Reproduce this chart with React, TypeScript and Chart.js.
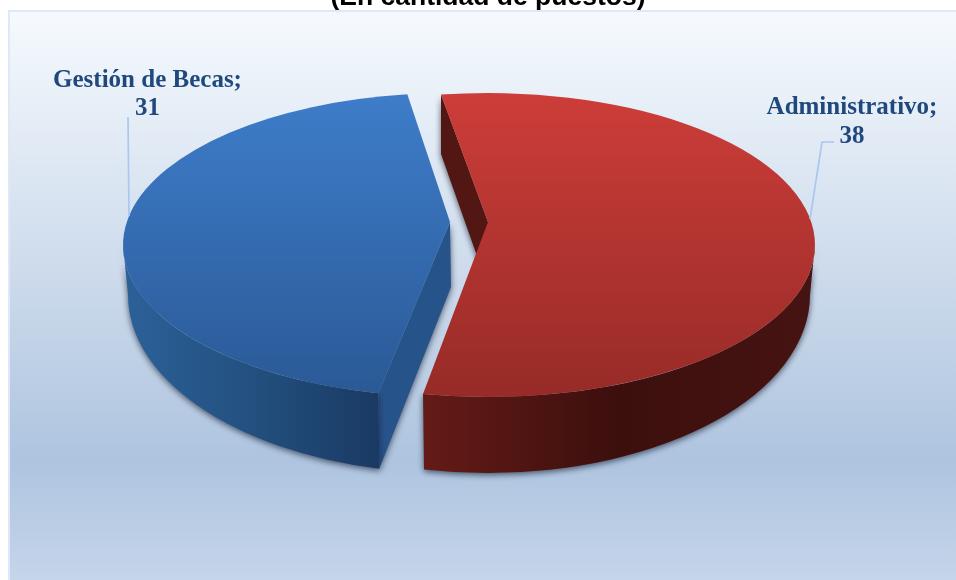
import React, { useEffect, useRef } from "react";
import { Chart, registerables } from "chart.js";

Chart.register(...registerables);

const categories = ["Administrativo", "Gestión de Becas"];
const seriesValues = [38, 31];
const titleText = "(En cantidad de puestos)";

const W = 956;
const H = 580;
const RAD = Math.PI / 180;

const topColors = [
  ["#cd3d39", "#972b27"],
  ["#3e7dca", "#2a5995"],
];
const wallStops = [
  [[0, "#641b17"], [0.5, "#3c0f0d"], [1, "#461412"]],
  [[0, "#2c6199"], [0.5, "#23507f"], [1, "#1a3a63"]],
];
const innerColors = ["#521713", "#26538a"];

// small perspective corrections of the slice edges, in degrees [start, end]
const perspective = [
  [-0.76, 0.7],
  [1.9, 0],
];

const geom = {
  rx: 327, ry: 152, cy: 245, apexY: 222,
  lowRx: 322, lowCy: 295, lowRyFront: 178, lowRyBack: 142, lowApexY: 287,
  explode: 19,
};

const lowPoint = (cx: number, a: number): [number, number] => {
  const s = Math.sin(a);
  return [cx + geom.lowRx * Math.cos(a), geom.lowCy + (s > 0 ? geom.lowRyFront : geom.lowRyBack) * s];
};
const topPoint = (cx: number, a: number): [number, number] => [
  cx + geom.rx * Math.cos(a),
  geom.cy + geom.ry * Math.sin(a),
];

const pie3d = {
  id: "pie3d",
  beforeDraw(chart: any) {
    const c = chart.ctx;
    c.save();
    c.fillStyle = "#ffffff";
    c.fillRect(0, 0, W, H);
    const g = c.createLinearGradient(0, 10, 0, 580);
    g.addColorStop(0, "#f6fafe");
    g.addColorStop(0.5, "#c9d8ea");
    g.addColorStop(0.79, "#aec4df");
    g.addColorStop(1, "#c5d5ea");
    c.fillStyle = g;
    c.fillRect(8, 10, W - 8, H - 10);
    c.strokeStyle = "#dfe8f8";
    c.lineWidth = 2;
    c.beginPath();
    c.moveTo(9, H);
    c.lineTo(9, 11);
    c.lineTo(W, 11);
    c.stroke();
    c.restore();
  },
  beforeDatasetsDraw(chart: any) {
    const c = chart.ctx;
    const arcs = chart.getDatasetMeta(0).data;
    [1, 0].forEach((i) => {
      const el = arcs[i];
      const mid = (el.startAngle + el.endAngle) / 2;
      const cx = el.x + Math.cos(mid) * geom.explode;
      const a0 = el.startAngle + perspective[i][0] * RAD;
      const a1 = el.endAngle + perspective[i][1] * RAD;
      const isRed = i === 0;
      c.save();
      c.shadowColor = "rgba(20,30,50,0.7)";
      c.shadowBlur = 6;
      c.shadowOffsetX = 0;
      c.shadowOffsetY = 2;

      // inner cut wall
      const corner = topPoint(cx, a0);
      const lowCorner = isRed ? [corner[0], 154] : [corner[0] + 1, lowPoint(cx, a0)[1]];
      c.fillStyle = innerColors[i];
      c.beginPath();
      c.moveTo(corner[0], corner[1]);
      c.lineTo(cx, geom.apexY);
      c.lineTo(cx + (isRed ? 0 : 1), geom.lowApexY);
      c.lineTo(lowCorner[0], lowCorner[1]);
      c.closePath();
      c.fill();

      // outer wall
      const from = isRed ? 0 : a0;
      const to = isRed ? a1 : Math.PI;
      const gx0 = isRed ? topPoint(cx, a1)[0] : topPoint(cx, Math.PI)[0];
      const gx1 = isRed ? cx + geom.rx : topPoint(cx, a0)[0];
      const wg = c.createLinearGradient(gx0, 0, gx1, 0);
      wallStops[i].forEach((s: any) => wg.addColorStop(s[0], s[1]));
      c.fillStyle = wg;
      c.beginPath();
      c.ellipse(cx, geom.cy, geom.rx, geom.ry, 0, from, to);
      c.ellipse(cx, geom.lowCy, geom.lowRx, geom.lowRyFront, 0, to, from, true);
      c.closePath();
      c.fill();
      c.restore();

      // top face
      const tg = c.createLinearGradient(0, 93, 0, 397);
      tg.addColorStop(0, topColors[i][0]);
      tg.addColorStop(1, topColors[i][1]);
      c.fillStyle = tg;
      c.beginPath();
      c.moveTo(cx, geom.apexY);
      c.ellipse(cx, geom.cy, geom.rx, geom.ry, 0, a0, a1);
      c.closePath();
      c.fill();
    });
    return false;
  },
  afterDraw(chart: any) {
    const c = chart.ctx;
    c.save();
    // leader lines
    c.strokeStyle = "#a9c8ee";
    c.lineWidth = 1.7;
    c.beginPath();
    c.moveTo(128, 117);
    c.lineTo(129, 216);
    c.moveTo(810, 219);
    c.lineTo(822, 142);
    c.lineTo(834, 142);
    c.stroke();

    // data labels
    c.fillStyle = "#1f497d";
    c.font = "bold 25px 'Liberation Serif'";
    c.textAlign = "center";
    c.textBaseline = "alphabetic";
    const labels = chart.data.labels;
    const vals = chart.data.datasets[0].data;
    const at = [[852, 114, 852, 143], [147.5, 87, 147.5, 115]];
    labels.forEach((l: string, i: number) => {
      c.fillText(l + ";", at[i][0], at[i][1]);
      c.fillText(String(vals[i]), at[i][2], at[i][3]);
    });

    // title (cut by the top edge)
    c.fillStyle = "#000000";
    c.font = "bold 26.5px 'Liberation Sans'";
    c.fillText(titleText, 488, 5);
    c.restore();
  },
};

export default function App() {
  const ref = useRef<HTMLCanvasElement>(null);
  useEffect(() => {
    const chart = new Chart(ref.current as HTMLCanvasElement, {
      type: "pie",
      data: {
        labels: categories,
        datasets: [{ data: seriesValues, borderWidth: 0 }],
      },
      options: {
        animation: false,
        responsive: false,
        rotation: -7.5,
        layout: { padding: { top: 95, bottom: 185, left: 0, right: 18 } },
        plugins: { legend: { display: false }, tooltip: { enabled: false } },
      },
      plugins: [pie3d],
    } as any);
    return () => chart.destroy();
  }, []);
  return (
    <canvas
      ref={ref}
      width={W}
      height={H}
      style={{ position: "fixed", left: 0, top: 0, width: W, height: H }}
    />
  );
}
